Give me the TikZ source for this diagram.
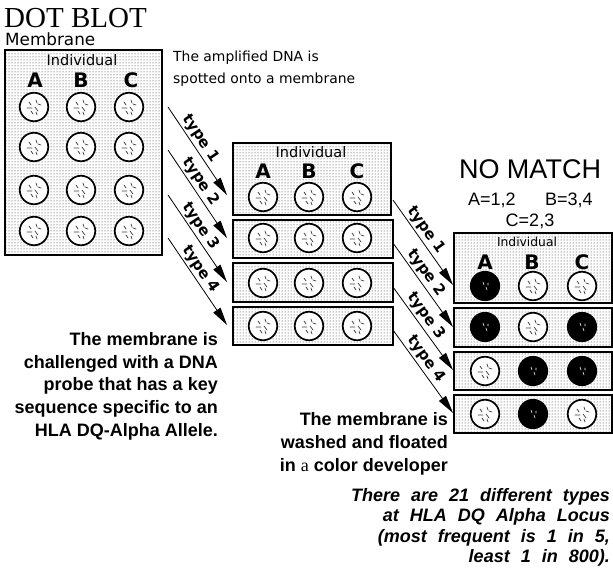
\documentclass[tikz,border=0pt]{standalone}
\usepackage{fontspec}
\setmainfont{Liberation Serif}
\newfontfamily\dvsans{DejaVu Sans}
\newfontfamily\lsans{Liberation Sans}
\usetikzlibrary{arrows.meta,patterns}

\begin{document}
\begin{tikzpicture}[x=1pt,y=-1pt,
  panel/.style={draw, line width=1.6pt, pattern=dots, pattern color=black!85, inner sep=0pt},
  rowbox/.style={panel, line width=1.9pt},
  spot/.style={circle, draw, line width=1.7pt, fill=white, minimum size=28.5pt, inner sep=0pt},
  darkspot/.style={spot, fill=black},
  letter/.style={font=\dvsans\bfseries\fontsize{20}{20}\selectfont, inner sep=0pt, anchor=base},
  indiv/.style={font=\dvsans\fontsize{14.5}{14.5}\selectfont, inner sep=0pt, anchor=base},
  flow/.style={line width=0.8pt, -{Triangle[length=18pt,width=8.5pt]}},
  typelabel/.style={font=\dvsans\bfseries\fontsize{15}{15}\selectfont, sloped, above=1pt, pos=0.42, inner sep=1pt},
  boldtext/.style={font=\lsans\bfseries\fontsize{18}{22.8}\selectfont, align=right, inner sep=0pt},
  dna/.pic={\draw[black!75, line width=0.7pt, line cap=round]
     (-5,-5)--(-3,-2) (2,-7)--(3,-4) (-7,1)--(-2,1) (1,0)--(4,4)
     (4,-3)--(7,-2) (-3,4)--(-1,7) (2,5)--(3,8);},
  dnadark/.pic={\draw[white, line width=0.6pt, line cap=round]
     (-2,-4)--(-1,-1) (1,1)--(2,4) (3,-3)--(3,-1);}
]
\useasboundingbox (0,0) rectangle (613,573);

% ---------- title ----------
\node[anchor=base west, inner sep=0pt, font=\fontsize{29}{29}\selectfont] (title) at (4,27) {DOT BLOT};
\node[anchor=base west, inner sep=0pt, font=\dvsans\fontsize{16.8}{16.8}\selectfont] (memlabel) at (5,45) {Membrane};

% ---------- spotted membrane ----------
\node[panel, minimum width=157pt, minimum height=205pt] (mem) at (83.5,152.5) {};
\node[indiv] (memind) at (82,65) {Individual};
\node[letter] (memA) at (35,87) {A};
\node[letter] (memB) at (81,87) {B};
\node[letter] (memC) at (131,87) {C};
\foreach \r/\y in {1/107,2/147,3/190,4/231}
  \foreach \c/\x in {A/34,B/81,C/129} {
    \node[spot] (mem\c\r) at (\x,\y) {};
    \pic at (mem\c\r) {dna};
  }

\node[anchor=north west, inner sep=0pt, align=left,
      font=\dvsans\fontsize{13.9}{22}\selectfont] (spotnote) at (173,51)
  {The amplified DNA is\\spotted onto a membrane};

% ---------- membrane cut into strips ----------
\node[panel, minimum width=158pt, minimum height=72pt] (mid1) at (312,179) {};
\node[rowbox, minimum width=160pt, minimum height=38pt] (mid2) at (313,239) {};
\node[rowbox, minimum width=160pt, minimum height=39pt] (mid3) at (313,282.5) {};
\node[rowbox, minimum width=160pt, minimum height=38pt] (mid4) at (313,326) {};
\node[indiv] (midind) at (311,157) {Individual};
\node[letter] (midA) at (263,178) {A};
\node[letter] (midB) at (309,178) {B};
\node[letter] (midC) at (357,178) {C};
\foreach \r/\y in {1/197,2/238,3/283,4/326}
  \foreach \c/\x in {A/263,B/309,C/357} {
    \node[spot] (mid\c\r) at (\x,\y) {};
    \pic at (mid\c\r) {dna};
  }

% probes from the membrane to the strips
\foreach \i/\ys/\ye in {1/107/195,2/150/238,3/195/282,4/238/325} {
  \coordinate (ls\i) at (168,\ys);
  \coordinate (le\i) at (227,\ye);
  \draw[flow] (ls\i) -- node[typelabel] (lt\i) {type \i} (le\i);
}

\node[boldtext, anchor=north east] (probenote) at (218,332)
  {The membrane is\\challenged with a DNA\\probe that has a key\\sequence specific to an\\HLA DQ-Alpha Allele.};

% ---------- developed strips ----------
\node[anchor=base, inner sep=0pt, font=\lsans\fontsize{27}{27}\selectfont] (nomatch) at (530,178) {NO MATCH};
\node[anchor=base west, inner sep=0pt, font=\lsans\fontsize{18}{18}\selectfont] (typA) at (468,205) {A=1,2};
\node[anchor=base west, inner sep=0pt, font=\lsans\fontsize{18}{18}\selectfont] (typB) at (545,205) {B=3,4};
\node[anchor=base, inner sep=0pt, font=\lsans\fontsize{18}{18}\selectfont] (typC) at (530,226) {C=2,3};

\node[panel, minimum width=158pt, minimum height=70pt] (res1) at (533,268) {};
\node[rowbox, minimum width=158pt, minimum height=39pt] (res2) at (533,327.5) {};
\node[rowbox, minimum width=158pt, minimum height=38pt] (res3) at (533,371) {};
\node[rowbox, minimum width=158pt, minimum height=38pt] (res4) at (533,414) {};
\node[indiv, font=\dvsans\fontsize{12.3}{12.3}\selectfont] (resind) at (527,246) {Individual};
\node[letter] (resA) at (485,269) {A};
\node[letter] (resB) at (532,269) {B};
\node[letter] (resC) at (582,269) {C};
\foreach \r/\y/\sa/\pa/\sb/\pb/\sc/\pc in {
    1/286/darkspot/dnadark/spot/dna/spot/dna,
    2/327/darkspot/dnadark/spot/dna/darkspot/dnadark,
    3/371/spot/dna/darkspot/dnadark/darkspot/dnadark,
    4/414/spot/dna/darkspot/dnadark/spot/dna} {
  \node[\sa] (resA\r) at (485,\y) {};
  \node[\sb] (resB\r) at (533,\y) {};
  \node[\sc] (resC\r) at (582,\y) {};
  \pic at (resA\r) {\pa};
  \pic at (resB\r) {\pb};
  \pic at (resC\r) {\pc};
}

% probes from the strips to the developed strips
\foreach \i/\ys/\ye in {1/200/285,2/243/327,3/287/370,4/330/413} {
  \coordinate (rs\i) at (393,\ys);
  \coordinate (re\i) at (453,\ye);
  \draw[flow] (rs\i) -- node[typelabel] (rt\i) {type \i} (re\i);
}

\node[boldtext, anchor=north east, font=\lsans\bfseries\fontsize{18}{23}\selectfont] (washnote) at (448,412)
  {The membrane is\\washed and floated\\in {\rmfamily\mdseries a} color developer};

\node[boldtext, anchor=north east, font=\lsans\bfseries\itshape\fontsize{18}{20.5}\selectfont] (freqnote) at (610,488)
  {\spaceskip=11pt There are 21 different types\\\spaceskip=11pt at HLA DQ Alpha Locus\\\spaceskip=11pt (most frequent is 1 in 5,\\\spaceskip=11pt least 1 in 800).};
\end{tikzpicture}
\end{document}
